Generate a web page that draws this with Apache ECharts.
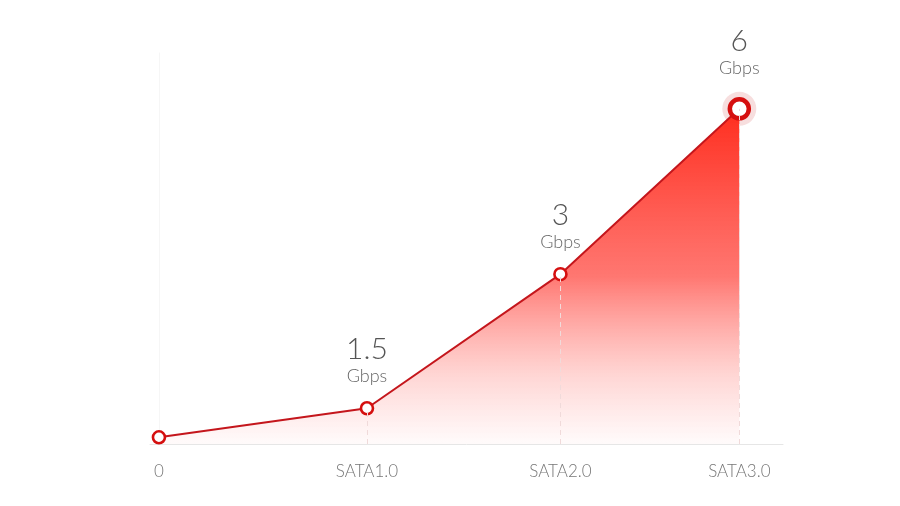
<!DOCTYPE html>
<html>
<head>
<meta charset="utf-8">
<script src="https://cdn.jsdelivr.net/npm/echarts@6/dist/echarts.min.js"></script>
<style>html,body{margin:0;padding:0;background:#fff}#c{width:900px;height:506px}</style>
</head>
<body>
<div id="c"></div>
<script>
// Interface names shown on the x axis
var categories = ['0', 'SATA1.0', 'SATA2.0', 'SATA3.0'];
// Horizontal placement (in units of the first gap)
var xValues = [0, 1, 1.93, 2.79];
// Speeds printed above points (Gbps)
var speeds = [null, 1.5, 3, 6];
// Plotted heights (the drawing is not to scale)
var heights = [0.12, 0.64, 3.04, 6];
var unit = 'Gbps';

var chart = echarts.init(document.getElementById('c'));
var pts = xValues.map(function (x, i) { return [x, heights[i]]; });
var last = pts.length - 1;
var font = 'Lato, "Source Sans Pro", "Open Sans", sans-serif';

var lineData = pts.map(function (p, i) {
  var big = i === last;
  return {
    value: p,
    symbolSize: big ? 19 : 12,
    itemStyle: { color: '#fff', borderColor: '#d50f0f', borderWidth: big ? 4.5 : 2.6 },
    label: speeds[i] == null ? { show: false } : {
      show: true, position: 'top', distance: big ? 17 : 13,
      formatter: '{v|' + speeds[i] + '}\n{u|' + unit + '}',
      rich: {
        v: { fontSize: 30, fontFamily: font, fontWeight: 300, color: '#555', lineHeight: 30, align: 'center' },
        u: { fontSize: 18, fontFamily: font, fontWeight: 300, color: '#666', lineHeight: 24, align: 'center' }
      }
    }
  };
});

var dropLines = pts.slice(1).map(function (p) {
  return [{ coord: [p[0], 0] }, { coord: [p[0], p[1]] }];
});

chart.setOption({
  animation: false,
  grid: { left: 150, right: 117, top: 53, bottom: 62 },
  xAxis: {
    type: 'value', min: -0.043, max: 3,
    splitLine: { show: false },
    axisTick: { show: false },
    axisLine: { show: true, lineStyle: { color: '#e6e6e6', width: 1 } },
    axisLabel: {
      show: true,
      customValues: xValues,
      formatter: function (v) {
        for (var i = 0; i < xValues.length; i++) if (Math.abs(xValues[i] - v) < 1e-6) return categories[i];
        return '';
      },
      margin: 19, fontSize: 17, fontFamily: font, fontWeight: 300, color: '#777'
    }
  },
  yAxis: {
    type: 'value', min: 0, max: 7,
    splitLine: { show: false },
    axisTick: { show: false },
    axisLabel: { show: false },
    axisLine: { show: true, onZero: true, lineStyle: { color: '#f6f6f6', width: 1 } }
  },
  series: [
    {
      type: 'scatter',
      data: [pts[last]],
      symbolSize: 34,
      itemStyle: { color: 'rgba(215,90,90,0.25)' },
      silent: true,
      z: 1
    },
    {
      type: 'line',
      data: lineData,
      symbol: 'circle',
      lineStyle: { color: '#c4161c', width: 2 },
      areaStyle: {
        origin: 'start',
        opacity: 1,
        color: new echarts.graphic.LinearGradient(0, 0, 0, 1, [
          { offset: 0, color: 'rgba(255,45,30,1)' },
          { offset: 0.5, color: 'rgba(255,95,88,0.85)' },
          { offset: 0.8, color: 'rgba(255,140,135,0.35)' },
          { offset: 1, color: 'rgba(255,150,150,0.04)' }
        ])
      },
      markLine: {
        silent: true,
        symbol: 'none',
        label: { show: false },
        lineStyle: { color: '#f0dada', type: [5, 4], width: 1 },
        data: dropLines
      },
      z: 3
    }
  ]
});
</script>
</body>
</html>
